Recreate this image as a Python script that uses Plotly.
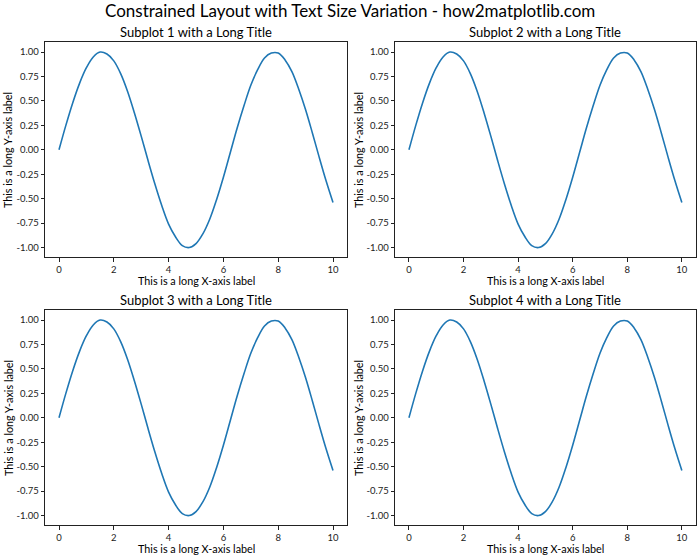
import plotly.graph_objects as go

# Data (same curve in every panel)
x_vals = [0, 0.25, 0.5, 0.75, 1, 1.25, 1.5, 1.75, 2, 2.25, 2.5, 2.75, 3, 3.25, 3.5, 3.75,
          4, 4.25, 4.5, 4.75, 5, 5.25, 5.5, 5.75, 6, 6.25, 6.5, 6.75, 7, 7.25, 7.5, 7.75,
          8, 8.25, 8.5, 8.75, 9, 9.25, 9.5, 9.75, 10]
y_vals = [0.0, 0.25, 0.48, 0.68, 0.84, 0.95, 1.0, 0.98, 0.91, 0.78, 0.60, 0.38, 0.14, -0.11,
          -0.35, -0.57, -0.76, -0.89, -0.98, -1.0, -0.96, -0.86, -0.71, -0.51, -0.28, -0.03,
          0.22, 0.45, 0.66, 0.82, 0.94, 0.99, 0.99, 0.92, 0.80, 0.62, 0.41, 0.17, -0.08,
          -0.32, -0.54]

x_ticks = [0, 2, 4, 6, 8, 10]
x_tick_labels = ["0", "2", "4", "6", "8", "10"]
y_ticks = [-1.0, -0.75, -0.5, -0.25, 0.0, 0.25, 0.5, 0.75, 1.0]
y_tick_labels = ["-1.00", "-0.75", "-0.50", "-0.25", "0.00", "0.25", "0.50", "0.75", "1.00"]

subplot_titles = ["Subplot 1 with a Long Title", "Subplot 2 with a Long Title",
                  "Subplot 3 with a Long Title", "Subplot 4 with a Long Title"]
main_title = "Constrained Layout with Text Size Variation - how2matplotlib.com"
x_label = "This is a long X-axis label"
y_label = "This is a long Y-axis label"

W, H = 700, 560
FONT = "Lato, Noto Sans, sans-serif"

# panel pixel boxes (left, right, top, bottom)
boxes = [(45.3, 346.7, 42.3, 257.3), (395.3, 695.5, 42.3, 257.3),
         (45.3, 346.7, 310.3, 525.3), (395.3, 695.5, 310.3, 525.3)]

fig = go.Figure()
annotations = []
layout = {}
for i, (l, r, t, b) in enumerate(boxes):
    n = i + 1
    xa = "x" if n == 1 else f"x{n}"
    ya = "y" if n == 1 else f"y{n}"
    fig.add_trace(go.Scatter(x=x_vals, y=y_vals, mode="lines",
                             line=dict(color="#1f77b4", width=1.6, shape="spline", smoothing=1.0),
                             xaxis=xa, yaxis=ya, showlegend=False, hoverinfo="skip"))
    axis_common = dict(showgrid=False, zeroline=False, showline=True, linecolor="#222",
                       linewidth=1, mirror=True, ticks="outside", ticklen=3.5, tickwidth=0.8,
                       tickcolor="#222", tickfont=dict(size=9.5, color="#222", family=FONT))
    layout[f"xaxis{'' if n == 1 else n}"] = dict(
        domain=[l / W, r / W], anchor=ya, range=[-0.5, 10.5],
        tickvals=x_ticks, ticktext=x_tick_labels, **axis_common)
    layout[f"yaxis{'' if n == 1 else n}"] = dict(
        domain=[1 - b / H, 1 - t / H], anchor=xa, range=[-1.1, 1.1],
        tickvals=y_ticks, ticktext=y_tick_labels, **axis_common)
    cx = (l + r) / 2
    annotations.append(dict(text=subplot_titles[i], x=cx / W, y=1 - (t - 10.5) / H,
                            xref="paper", yref="paper", showarrow=False,
                            xanchor="center", yanchor="middle",
                            font=dict(size=13, color="black", family=FONT)))
    annotations.append(dict(text=x_label, x=cx / W, y=1 - (b + 23) / H,
                            xref="paper", yref="paper", showarrow=False,
                            xanchor="center", yanchor="middle",
                            font=dict(size=10.8, color="black", family=FONT)))
    annotations.append(dict(text=y_label, x=(l - 37) / W, y=1 - ((t + b) / 2) / H,
                            xref="paper", yref="paper", showarrow=False, textangle=-90,
                            xanchor="center", yanchor="middle",
                            font=dict(size=10.8, color="black", family=FONT)))

annotations.append(dict(text=main_title, x=0.5, y=1 - 10 / H, xref="paper", yref="paper",
                        showarrow=False, xanchor="center", yanchor="middle",
                        font=dict(size=17, color="black", family=FONT)))

fig.update_layout(width=W, height=H, margin=dict(l=0, r=0, t=0, b=0),
                  paper_bgcolor="white", plot_bgcolor="white",
                  annotations=annotations, **layout)
fig.write_html("out.html", config={"displayModeBar": False},
               post_script="document.body.style.margin='0';document.body.style.overflow='hidden';")
